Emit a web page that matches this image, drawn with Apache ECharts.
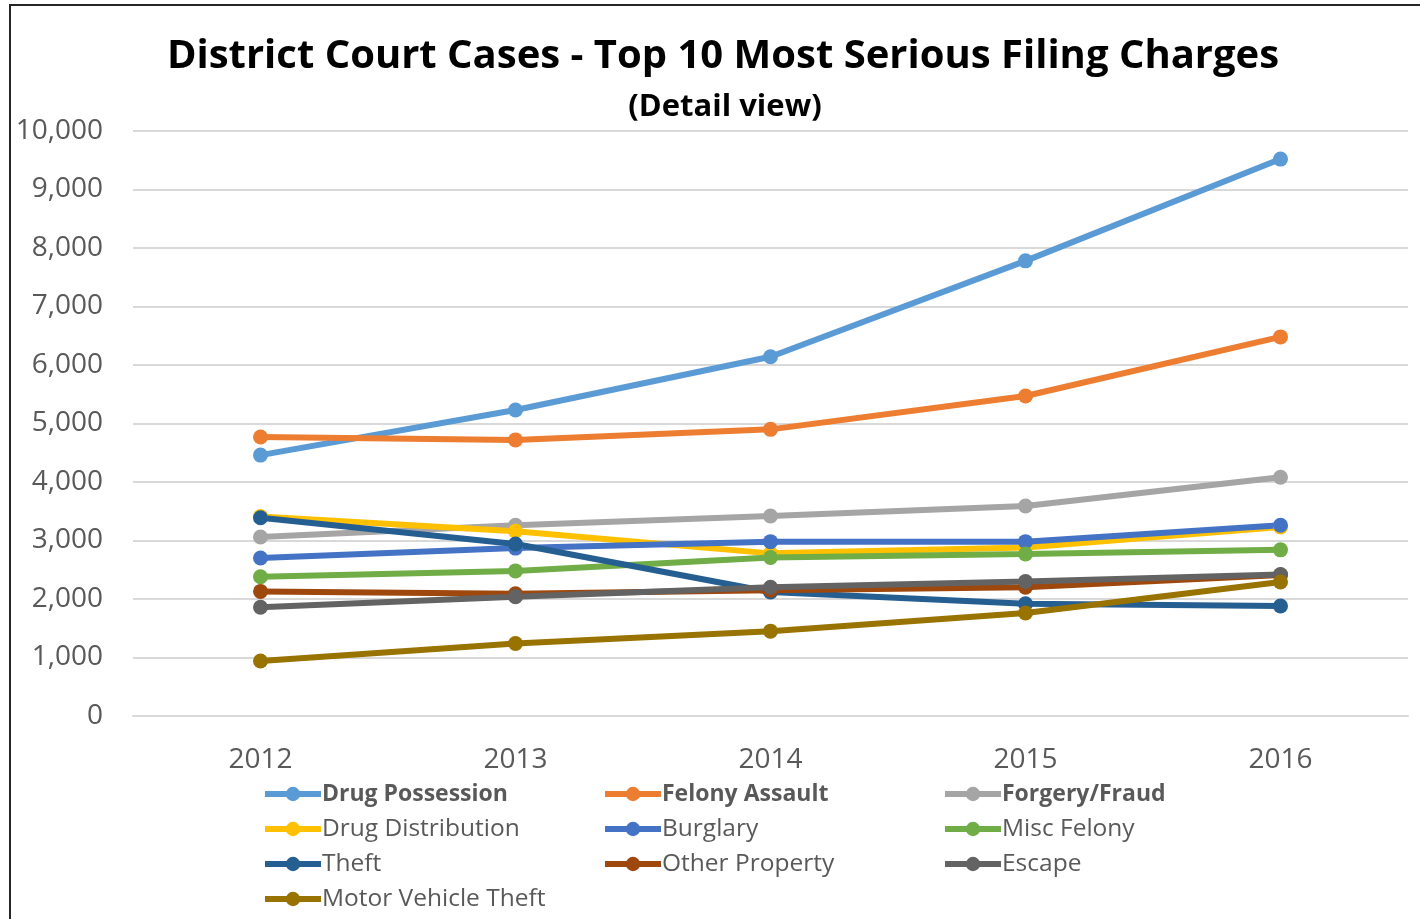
<!DOCTYPE html>
<html>
<head>
<meta charset="utf-8">
<script src="https://cdn.jsdelivr.net/npm/echarts@6/dist/echarts.min.js"></script>
<style>
body { margin: 0; overflow: hidden; background: #fff; }
#chart { width: 1420px; height: 919px; }
#frame {
  position: absolute; left: 9px; top: 4px; width: 2000px; height: 2000px;
  border-left: 2px solid #262626; border-top: 2px solid #262626;
  pointer-events: none;
}
</style>
</head>
<body>
<div id="chart"></div>
<div id="frame"></div>
<script>
var years = ["2012", "2013", "2014", "2015", "2016"];

var drugPossession = [4460, 5230, 6140, 7780, 9520];
var felonyAssault = [4770, 4720, 4900, 5470, 6480];
var forgeryFraud = [3060, 3260, 3420, 3590, 4080];
var drugDistribution = [3410, 3160, 2780, 2880, 3230];
var burglary = [2700, 2870, 2980, 2980, 3260];
var miscFelony = [2380, 2480, 2710, 2770, 2840];
var theft = [3390, 2940, 2120, 1920, 1880];
var otherProperty = [2130, 2090, 2150, 2200, 2410];
var escape = [1860, 2040, 2200, 2300, 2420];
var motorVehicleTheft = [940, 1240, 1450, 1760, 2290];

var font = "Open Sans";

function line(name, data, color) {
  return {
    name: name,
    type: "line",
    data: data,
    symbol: "circle",
    symbolSize: 15,
    itemStyle: { color: color },
    lineStyle: { color: color, width: 6 },
    emphasis: { disabled: true }
  };
}

var boldNames = ["Drug Possession", "Felony Assault", "Forgery/Fraud"];

function legend(left, names) {
  return {
    orient: "vertical",
    left: left,
    top: 775,
    itemWidth: 56,
    itemHeight: 18,
    itemGap: 7,
    data: names,
    lineStyle: { width: 6 },
    formatter: function (n) {
      return boldNames.indexOf(n) >= 0 ? "{b|" + n + "}" : n;
    },
    textStyle: {
      fontFamily: font,
      fontSize: 24.5,
      lineHeight: 28,
      color: "#595959",
      padding: [0, 0, 0, -4],
      rich: { b: { fontFamily: font, fontSize: 23, lineHeight: 28, fontWeight: "bold", color: "#595959" } }
    }
  };
}

var option = {
  animation: false,
  title: [
    {
      text: "District Court Cases - Top 10 Most Serious Filing Charges",
      left: 718, textAlign: "center", top: 32,
      textStyle: { fontFamily: font, fontSize: 40, fontWeight: "bold", color: "#000" }
    },
    {
      text: "(Detail view)",
      left: 720, textAlign: "center", top: 87,
      textStyle: { fontFamily: font, fontSize: 31, fontWeight: "bold", color: "#000" }
    }
  ],
  legend: [
    legend(257, ["Drug Possession", "Drug Distribution", "Theft", "Motor Vehicle Theft"]),
    legend(597, ["Felony Assault", "Burglary", "Other Property"]),
    legend(937, ["Forgery/Fraud", "Misc Felony", "Escape"])
  ],
  grid: { left: 133, right: 12, top: 131, bottom: 203, containLabel: false },
  xAxis: {
    type: "category",
    data: years,
    boundaryGap: true,
    axisLine: { lineStyle: { color: "#d9d9d9", width: 2 } },
    axisTick: { show: false },
    axisLabel: { fontFamily: font, fontSize: 28, color: "#595959", margin: 30 }
  },
  yAxis: {
    type: "value",
    min: 0,
    max: 10000,
    interval: 1000,
    axisLine: { show: false },
    axisTick: { show: false },
    splitLine: { lineStyle: { color: "#d9d9d9", width: 2 } },
    axisLabel: {
      fontFamily: font, fontSize: 28, color: "#595959", margin: 30,
      formatter: function (v) { return v.toLocaleString("en-US"); }
    }
  },
  series: [
    line("Drug Possession", drugPossession, "#5b9bd5"),
    line("Felony Assault", felonyAssault, "#ed7d31"),
    line("Forgery/Fraud", forgeryFraud, "#a5a5a5"),
    line("Drug Distribution", drugDistribution, "#ffc000"),
    line("Burglary", burglary, "#4472c4"),
    line("Misc Felony", miscFelony, "#70ad47"),
    line("Theft", theft, "#255e91"),
    line("Other Property", otherProperty, "#9e480e"),
    line("Escape", escape, "#636363"),
    line("Motor Vehicle Theft", motorVehicleTheft, "#997300")
  ]
};

var chart = echarts.init(document.getElementById("chart"));
chart.setOption(option);
</script>
</body>
</html>
